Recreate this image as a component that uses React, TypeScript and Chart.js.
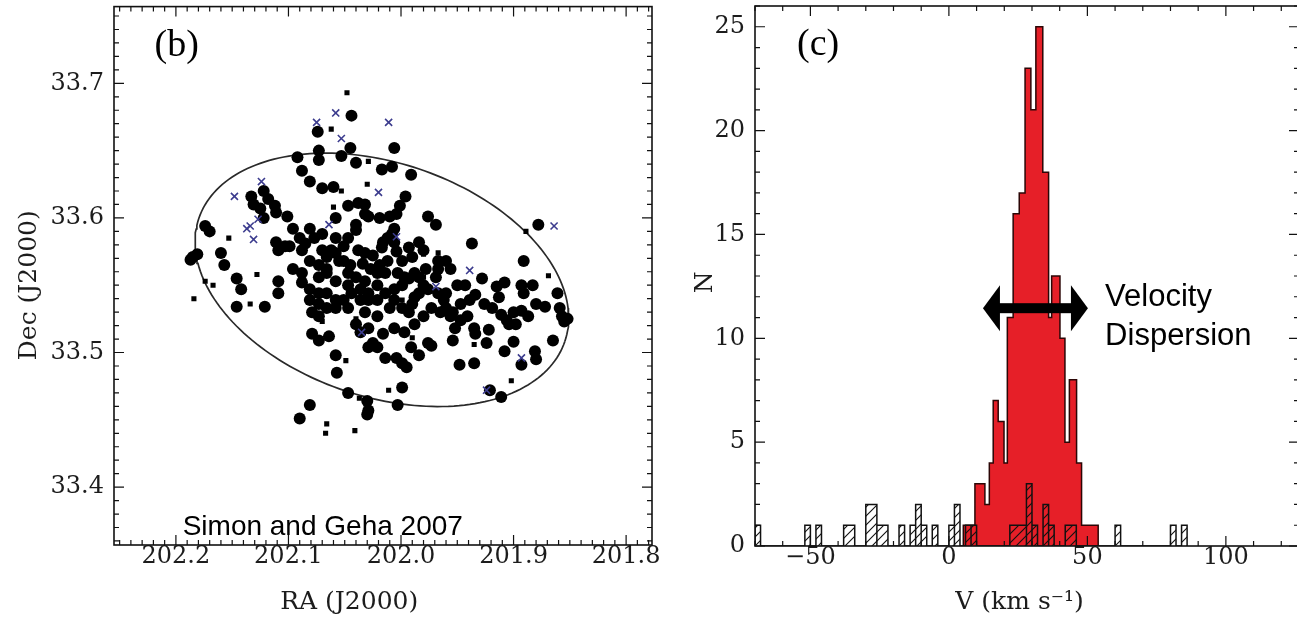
import React, { useEffect, useRef } from 'react';
import { Chart, registerables } from 'chart.js';

Chart.register(...registerables);

// ---------- Panel (b): positions ----------
const RA_TICKS = [202.2, 202.1, 202.0, 201.9, 201.8];
const DEC_TICKS = [33.4, 33.5, 33.6, 33.7];
const RA_RANGE = [201.777, 202.255];
const DEC_RANGE = [33.357, 33.757];

// member stars (large filled circles): [RA, Dec]
const MEMBERS: [number, number][] = [
  [202.044, 33.676], [202.074, 33.664], [202.073, 33.650], [202.073, 33.643], [202.092, 33.645], [202.088, 33.635], [202.081, 33.627], [202.053, 33.646], [202.045, 33.652], [202.040, 33.641],
  [202.006, 33.652], [202.017, 33.636], [202.008, 33.638], [201.991, 33.632], [202.070, 33.622], [202.060, 33.623], [202.038, 33.611], [202.032, 33.610], [202.047, 33.609], [202.032, 33.603],
  [202.058, 33.600], [202.040, 33.595], [202.029, 33.601], [202.019, 33.600], [202.010, 33.601], [202.004, 33.603], [202.001, 33.609], [201.996, 33.616], [202.133, 33.616], [202.122, 33.620],
  [202.118, 33.614], [202.112, 33.609], [202.125, 33.607], [202.122, 33.600], [202.111, 33.604], [202.101, 33.601], [202.131, 33.610], [202.174, 33.594], [202.170, 33.590], [202.160, 33.574],
  [202.157, 33.565], [202.185, 33.571], [202.181, 33.573], [202.146, 33.555], [202.142, 33.547], [202.146, 33.534], [202.121, 33.534], [202.109, 33.553], [202.109, 33.544], [202.111, 33.582],
  [202.103, 33.579], [202.109, 33.576], [202.099, 33.579], [202.081, 33.592], [202.077, 33.585], [202.070, 33.588], [202.088, 33.576], [202.081, 33.568], [202.073, 33.565], [202.066, 33.562],
  [202.058, 33.585], [202.058, 33.574], [202.051, 33.579], [202.047, 33.585], [202.040, 33.591], [202.038, 33.576], [202.032, 33.574], [202.025, 33.572], [202.017, 33.578], [202.016, 33.582],
  [202.012, 33.585], [202.008, 33.588], [202.006, 33.592], [202.006, 33.582], [202.004, 33.575], [201.999, 33.568], [201.993, 33.578], [201.990, 33.571], [201.969, 33.595], [201.967, 33.568],
  [201.960, 33.568], [201.956, 33.562], [201.937, 33.581], [201.967, 33.562], [201.984, 33.556], [201.980, 33.550], [202.088, 33.552], [202.081, 33.547], [202.073, 33.556], [202.066, 33.559],
  [202.058, 33.553], [202.047, 33.559], [202.040, 33.556], [202.032, 33.553], [202.036, 33.547], [202.047, 33.550], [202.044, 33.544], [202.021, 33.550], [202.014, 33.544], [202.006, 33.547],
  [201.999, 33.550], [201.993, 33.555], [202.081, 33.539], [202.073, 33.536], [202.066, 33.533], [202.079, 33.530], [202.073, 33.527], [202.079, 33.514], [202.073, 33.509], [202.064, 33.512],
  [202.058, 33.498], [202.057, 33.485], [202.047, 33.470], [202.047, 33.533], [202.032, 33.530], [202.040, 33.521], [202.036, 33.515], [202.029, 33.504], [202.025, 33.507], [202.021, 33.504],
  [202.014, 33.496], [202.004, 33.496], [201.999, 33.492], [201.995, 33.489], [202.021, 33.527], [202.010, 33.533], [202.006, 33.539], [201.999, 33.533], [201.993, 33.530], [201.990, 33.536],
  [201.988, 33.541], [201.984, 33.544], [201.976, 33.547], [201.973, 33.533], [201.965, 33.530], [201.960, 33.533], [201.954, 33.530], [201.976, 33.507], [201.973, 33.505], [201.962, 33.539],
  [201.960, 33.544], [201.950, 33.550], [201.943, 33.550], [201.947, 33.536], [201.947, 33.524], [201.952, 33.518], [201.934, 33.543], [201.928, 33.555], [201.935, 33.518], [201.934, 33.514],
  [201.922, 33.517], [201.954, 33.509], [201.948, 33.491], [201.935, 33.492], [201.956, 33.527], [201.919, 33.533], [201.911, 33.528], [201.906, 33.524], [201.904, 33.521], [201.915, 33.549],
  [201.908, 33.552], [201.891, 33.568], [201.893, 33.550], [201.883, 33.550], [201.891, 33.544], [201.900, 33.530], [201.893, 33.531], [201.880, 33.536], [201.872, 33.534], [201.861, 33.544],
  [201.859, 33.533], [201.857, 33.527], [201.852, 33.525], [201.855, 33.523], [201.878, 33.595], [201.865, 33.509], [201.881, 33.501], [201.880, 33.495], [201.908, 33.501], [201.900, 33.508],
  [201.893, 33.491], [201.921, 33.472], [201.911, 33.467], [201.976, 33.601], [201.999, 33.474], [202.003, 33.461], [202.030, 33.464], [202.029, 33.457], [202.030, 33.454], [202.081, 33.461],
  [202.090, 33.451], [202.187, 33.569], [202.070, 33.576], [202.051, 33.568], [202.021, 33.559], [201.967, 33.544], [202.021, 33.539], [202.029, 33.539], [202.058, 33.539], [201.980, 33.527],
  [202.096, 33.592], [202.090, 33.585], [202.085, 33.581], [202.062, 33.576], [202.066, 33.571], [202.055, 33.568], [202.045, 33.565], [202.034, 33.566], [202.027, 33.562], [202.019, 33.565],
  [202.012, 33.568], [202.003, 33.559], [201.997, 33.556], [201.988, 33.559], [202.014, 33.559], [202.036, 33.539], [202.029, 33.544], [202.051, 33.539], [202.058, 33.533], [202.066, 33.544],
  [202.073, 33.544], [202.088, 33.559], [202.096, 33.562], [201.984, 33.582], [201.980, 33.576], [201.978, 33.562], [201.969, 33.556], [201.939, 33.539], [201.926, 33.536], [201.941, 33.527],
  [201.988, 33.521], [201.997, 33.515], [202.006, 33.518], [202.016, 33.514], [202.029, 33.518], [201.991, 33.504], [201.984, 33.498], [201.924, 33.507], [201.913, 33.541], [201.898, 33.521],
  [201.887, 33.527],
];

// small filled squares: [RA, Dec]
const SQUARES: [number, number][] = [
  [202.048, 33.693], [202.062, 33.666], [202.029, 33.642], [202.030, 33.625], [202.053, 33.620], [202.060, 33.608], [202.153, 33.585], [202.128, 33.558], [202.174, 33.553], [202.167, 33.550],
  [202.184, 33.540], [202.134, 33.536], [201.980, 33.573], [201.967, 33.574], [201.990, 33.511], [201.999, 33.539], [202.049, 33.494], [202.037, 33.466], [202.041, 33.442], [202.066, 33.447],
  [202.067, 33.440], [202.011, 33.472], [201.935, 33.506], [201.869, 33.557], [201.889, 33.590], [201.902, 33.479], [201.980, 33.556], [202.070, 33.523], [202.040, 33.525],
];

// blue crosses: [RA, Dec]
const CROSSES: [number, number][] = [
  [202.075, 33.671], [202.058, 33.678], [202.053, 33.659], [202.011, 33.671], [202.148, 33.616], [202.124, 33.627], [202.020, 33.619], [202.137, 33.592], [202.134, 33.594], [202.127, 33.599],
  [202.131, 33.584], [202.064, 33.595], [202.004, 33.586], [201.969, 33.549], [201.939, 33.561], [201.924, 33.472], [201.893, 33.496], [201.864, 33.594], [202.035, 33.515],
];

// ellipse: centre and semi-axis vectors (RA, Dec)
const ELLIPSE_CENTER = [202.017, 33.554];
const ELLIPSE_MAJOR = [-0.1626, -0.0457];
const ELLIPSE_MINOR = [0.0332, -0.0823];

// ---------- Panel (c): velocity histogram ----------
const V_TICKS = [-50, 0, 50, 100];
const N_TICKS = [0, 5, 10, 15, 20, 25];
const V_RANGE = [-70, 126.4];
const N_RANGE = [0, 26];

const RED_EDGES = [5.2, 9.4, 13.0, 14.6, 16.0, 17.8, 19.9, 21.1, 23.2, 25.4, 27.5, 29.6, 31.4, 33.9, 36.0, 37.1, 40.1, 41.9, 43.5, 46.1, 47.9, 53.9];
const RED_COUNTS = [1, 3, 2, 4, 7, 6, 4, 11, 16, 17, 23, 21, 25, 18, 11, 13, 10, 5, 8, 4, 1];

const NM_LEFT = [-70, -52, -48, -38, -30, -26, -18, -14, -12, -10, -6, 0, 2, 6, 8, 22, 28, 30, 34, 36, 42, 60, 80, 84];
const NM_RIGHT = [-68, -50, -46, -34, -26, -22, -16, -12, -10, -8, -4, 2, 4, 8, 10, 28, 30, 32, 36, 38, 46, 62, 82, 86];
const NM_COUNT = [1, 1, 1, 1, 2, 1, 1, 1, 2, 1, 1, 1, 2, 1, 1, 1, 3, 1, 2, 1, 1, 1, 1, 1];

const ARROW = { from: 12.3, to: 50.2, y: 11.45 };

const SERIF = '"DejaVu Serif", serif';
const TICK_FONT = { family: SERIF, size: 24, lineHeight: 1.0 };
const TITLE_FONT = `25px ${SERIF}`;
const TEXT_COLOR = '#1c1c1c';

function makeFramePlugin(cfg: { xMinor: number; xEvery: number; yMinor: number; yEvery: number; majorLen: number; minorLen: number }) {
  return {
    id: 'frameTicks',
    afterDatasetsDraw(chart: any) {
      const { ctx, chartArea: a, scales } = chart;
      ctx.save();
      ctx.strokeStyle = '#111';
      ctx.lineWidth = 1.6;
      ctx.strokeRect(a.left, a.top, a.right - a.left, a.bottom - a.top);
      ctx.lineWidth = 1.2;
      const axis = (scale: any, minor: number, every: number, horiz: boolean) => {
        const lo = Math.min(scale.min, scale.max);
        const hi = Math.max(scale.min, scale.max);
        const k0 = Math.ceil(lo / minor - 1e-6);
        const k1 = Math.floor(hi / minor + 1e-6);
        for (let k = k0; k <= k1; k++) {
          const v = k * minor;
          const major = ((k % every) + every) % every === 0;
          const len = major ? cfg.majorLen : cfg.minorLen;
          const p = scale.getPixelForValue(v);
          ctx.beginPath();
          if (horiz) {
            ctx.moveTo(p, a.bottom); ctx.lineTo(p, a.bottom - len);
            ctx.moveTo(p, a.top); ctx.lineTo(p, a.top + len);
          } else {
            ctx.moveTo(a.left, p); ctx.lineTo(a.left + len, p);
            ctx.moveTo(a.right, p); ctx.lineTo(a.right - len, p);
          }
          ctx.stroke();
        }
      };
      axis(scales.x, cfg.xMinor, cfg.xEvery, true);
      axis(scales.y, cfg.yMinor, cfg.yEvery, false);
      ctx.restore();
    },
  };
}

// x / y are data values unless px / py (canvas pixels) are given
type Note = { text: string; x?: number; y?: number; px?: number; py?: number; font: string; align?: CanvasTextAlign; rotate?: number; color?: string };

function makeNotesPlugin(notes: Note[], arrow?: { from: number; to: number; y: number }) {
  return {
    id: 'notes',
    afterDraw(chart: any) {
      const { ctx, scales } = chart;
      ctx.save();
      if (arrow) {
        const xl = scales.x.getPixelForValue(arrow.from);
        const xr = scales.x.getPixelForValue(arrow.to);
        const y = scales.y.getPixelForValue(arrow.y);
        const head = 17, half = 23, shaft = 10;
        ctx.fillStyle = '#000';
        ctx.fillRect(xl + head - 1, y - shaft / 2, xr - xl - 2 * head + 2, shaft);
        ctx.beginPath();
        ctx.moveTo(xl, y); ctx.lineTo(xl + head, y - half); ctx.lineTo(xl + head, y + half); ctx.closePath();
        ctx.fill();
        ctx.beginPath();
        ctx.moveTo(xr, y); ctx.lineTo(xr - head, y - half); ctx.lineTo(xr - head, y + half); ctx.closePath();
        ctx.fill();
      }
      ctx.textBaseline = 'middle';
      notes.forEach((n) => {
        const px = n.px !== undefined ? n.px : scales.x.getPixelForValue(n.x);
        const py = n.py !== undefined ? n.py : scales.y.getPixelForValue(n.y);
        ctx.save();
        ctx.font = n.font;
        ctx.fillStyle = n.color || '#000';
        ctx.textAlign = n.align || 'left';
        ctx.translate(px, py);
        if (n.rotate) ctx.rotate(n.rotate);
        ctx.fillText(n.text, 0, 0);
        ctx.restore();
      });
      ctx.restore();
    },
  };
}

function hatchPattern(ctx: CanvasRenderingContext2D) {
  const c = document.createElement('canvas');
  c.width = 9; c.height = 9;
  const g = c.getContext('2d')!;
  g.strokeStyle = '#111';
  g.lineWidth = 1.1;
  g.beginPath();
  g.moveTo(0, 9); g.lineTo(9, 0);
  g.moveTo(-2, 2); g.lineTo(2, -2);
  g.moveTo(7, 11); g.lineTo(11, 7);
  g.stroke();
  return ctx.createPattern(c, 'repeat');
}

const noPad = (ax: any) => {
  ax.paddingTop = 0; ax.paddingBottom = 0; ax.paddingLeft = 0; ax.paddingRight = 0;
};

export default function App() {
  const leftRef = useRef<HTMLCanvasElement>(null);
  const rightRef = useRef<HTMLCanvasElement>(null);

  useEffect(() => {
    document.body.style.margin = '0';
    document.body.style.overflow = 'hidden';

    const N = 200;
    const ellipse = Array.from({ length: N + 1 }, (_, i) => {
      const t = (2 * Math.PI * i) / N;
      return {
        x: ELLIPSE_CENTER[0] + ELLIPSE_MAJOR[0] * Math.cos(t) + ELLIPSE_MINOR[0] * Math.sin(t),
        y: ELLIPSE_CENTER[1] + ELLIPSE_MAJOR[1] * Math.cos(t) + ELLIPSE_MINOR[1] * Math.sin(t),
      };
    });

    const left = new Chart(leftRef.current!, {
      type: 'scatter',
      data: {
        datasets: [
          { label: 'crosses', data: CROSSES.map(([x, y]) => ({ x, y })), pointStyle: 'crossRot', pointRadius: 5, borderColor: '#3c3c8e', borderWidth: 1.6, backgroundColor: '#3c3c8e' },
          { label: 'squares', data: SQUARES.map(([x, y]) => ({ x, y })), pointStyle: 'rect', pointRadius: 3.6, backgroundColor: '#000', borderWidth: 0 },
          { label: 'members', data: MEMBERS.map(([x, y]) => ({ x, y })), pointStyle: 'circle', pointRadius: 6, backgroundColor: '#000', borderWidth: 0 },
          { label: 'ellipse', data: ellipse, showLine: true, pointRadius: 0, borderColor: '#2a2a2a', borderWidth: 1.7, fill: false, tension: 0 },
        ],
      } as any,
      options: {
        animation: false,
        responsive: false,
        events: [],
        layout: { padding: { top: 6, right: 18, left: 0, bottom: 0 } },
        plugins: { legend: { display: false }, tooltip: { enabled: false } },
        scales: {
          x: {
            type: 'linear', position: 'bottom', reverse: true, min: RA_RANGE[0], max: RA_RANGE[1],
            grid: { display: false, drawTicks: false }, border: { display: false },
            ticks: { font: TICK_FONT, color: TEXT_COLOR, padding: 0, autoSkip: false, maxRotation: 0, callback: (v: any) => Number(v).toFixed(1) },
            afterBuildTicks: (ax: any) => { ax.ticks = RA_TICKS.map((value) => ({ value })); },
            afterFit: (ax: any) => { ax.height = 72; noPad(ax); },
          },
          y: {
            type: 'linear', min: DEC_RANGE[0], max: DEC_RANGE[1],
            grid: { display: false, drawTicks: false }, border: { display: false },
            ticks: { font: TICK_FONT, color: TEXT_COLOR, padding: 10, autoSkip: false, callback: (v: any) => Number(v).toFixed(1) },
            afterBuildTicks: (ax: any) => { ax.ticks = DEC_TICKS.map((value) => ({ value })); },
            afterFit: (ax: any) => { ax.width = 114; noPad(ax); },
          },
        },
      } as any,
      plugins: [
        makeFramePlugin({ xMinor: 0.01, xEvery: 10, yMinor: 0.01, yEvery: 10, majorLen: 10, minorLen: 5 }),
        makeNotesPlugin([
          { text: '(b)', x: 202.219, y: 33.728, font: '38px "Liberation Serif", serif' },
          { text: 'Simon and Geha 2007', x: 202.194, y: 33.370, font: '28px "Liberation Sans", Arial, sans-serif' },
          { text: 'RA (J2000)', x: 202.046, py: 602, font: TITLE_FONT, align: 'center', color: TEXT_COLOR },
          { text: 'Dec (J2000)', px: 29, y: 33.550, font: TITLE_FONT, align: 'center', rotate: -Math.PI / 2, color: TEXT_COLOR },
        ]),
      ] as any,
    });

    const ctx2 = rightRef.current!.getContext('2d')!;
    const redPts: { x: number; y: number }[] = [{ x: RED_EDGES[0], y: 0 }];
    RED_COUNTS.forEach((c, i) => {
      redPts.push({ x: RED_EDGES[i], y: c });
      redPts.push({ x: RED_EDGES[i + 1], y: c });
    });
    redPts.push({ x: RED_EDGES[RED_EDGES.length - 1], y: 0 });

    const nmPts: { x: number; y: number }[] = [];
    NM_LEFT.forEach((l, i) => {
      const r = NM_RIGHT[i];
      const c = NM_COUNT[i];
      nmPts.push({ x: l, y: 0 }, { x: l, y: c }, { x: r, y: c }, { x: r, y: 0 });
    });

    const right = new Chart(rightRef.current!, {
      type: 'line',
      data: {
        datasets: [
          { label: 'non-members', data: nmPts, borderColor: '#111', borderWidth: 1.5, backgroundColor: hatchPattern(ctx2), fill: 'origin', pointRadius: 0, tension: 0 },
          { label: 'members', data: redPts, borderColor: '#2b0606', borderWidth: 1.5, backgroundColor: '#e61f28', fill: 'origin', pointRadius: 0, tension: 0 },
        ],
      } as any,
      options: {
        animation: false,
        responsive: false,
        events: [],
        layout: { padding: { top: 6, right: 6, left: 0, bottom: 0 } },
        plugins: { legend: { display: false }, tooltip: { enabled: false } },
        scales: {
          x: {
            type: 'linear', position: 'bottom', min: V_RANGE[0], max: V_RANGE[1],
            grid: { display: false, drawTicks: false }, border: { display: false },
            ticks: { font: TICK_FONT, color: TEXT_COLOR, padding: 0, autoSkip: false, maxRotation: 0, callback: (v: any) => (Number(v) < 0 ? '\u2212' + Math.abs(Number(v)) : String(v)) },
            afterBuildTicks: (ax: any) => { ax.ticks = V_TICKS.map((value) => ({ value })); },
            afterFit: (ax: any) => { ax.height = 71; noPad(ax); },
          },
          y: {
            type: 'linear', min: N_RANGE[0], max: N_RANGE[1],
            grid: { display: false, drawTicks: false }, border: { display: false },
            ticks: { font: TICK_FONT, color: TEXT_COLOR, padding: 10, autoSkip: false, callback: (v: any) => String(v) },
            afterBuildTicks: (ax: any) => { ax.ticks = N_TICKS.map((value) => ({ value })); },
            afterFit: (ax: any) => { ax.width = 75; noPad(ax); },
          },
        },
      } as any,
      plugins: [
        makeFramePlugin({ xMinor: 10, xEvery: 5, yMinor: 1, yEvery: 5, majorLen: 10, minorLen: 5 }),
        makeNotesPlugin([
          { text: '(c)', x: -54.8, y: 24.1, font: '38px "Liberation Serif", serif' },
          { text: 'Velocity', x: 56.4, y: 11.95, font: '31px "Liberation Sans", Arial, sans-serif' },
          { text: 'Dispersion', x: 56.4, y: 10.1, font: '31px "Liberation Sans", Arial, sans-serif' },
          { text: 'V (km s\u207B\u00B9)', x: 25.5, py: 602, font: TITLE_FONT, align: 'center', color: TEXT_COLOR },
          { text: 'N', px: 25, y: 12.7, font: TITLE_FONT, align: 'center', rotate: -Math.PI / 2, color: TEXT_COLOR },
        ], ARROW),
      ] as any,
    });

    return () => {
      left.destroy();
      right.destroy();
    };
  }, []);

  return (
    <div style={{ position: 'relative', width: 1297, height: 617, overflow: 'hidden', background: '#fff' }}>
      <canvas ref={leftRef} width={670} height={617} style={{ position: 'absolute', left: 0, top: 0 }} />
      <canvas ref={rightRef} width={625} height={617} style={{ position: 'absolute', left: 680, top: 0 }} />
    </div>
  );
}
